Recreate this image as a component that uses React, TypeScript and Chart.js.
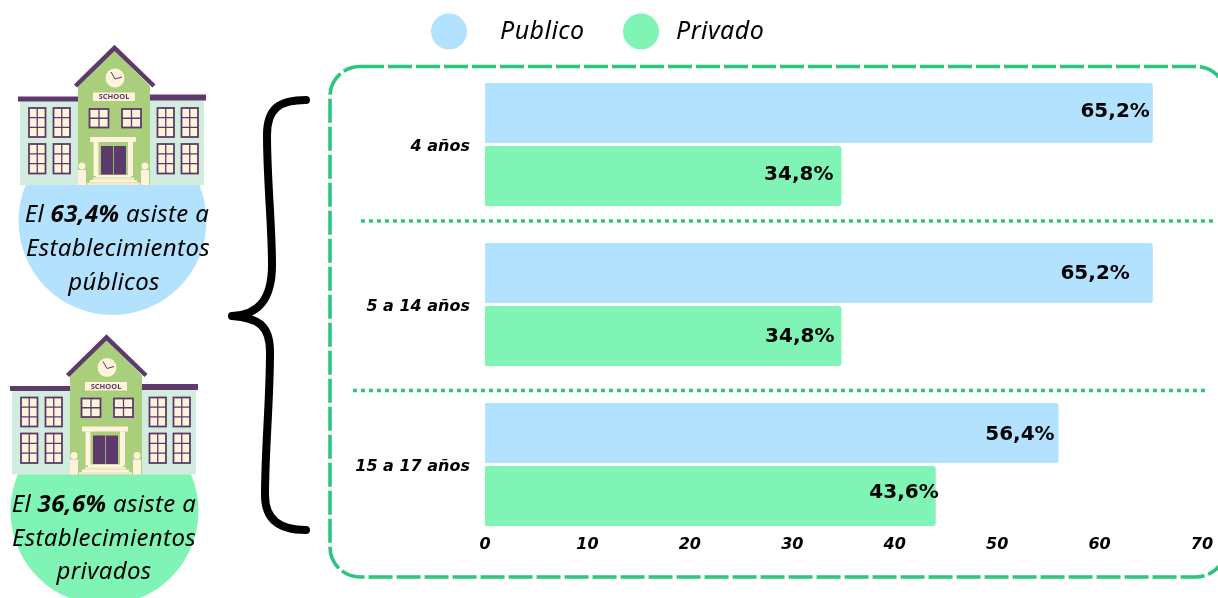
import React, { useEffect, useRef } from "react";
import { Chart, registerables } from "chart.js";

Chart.register(...registerables);

const categories = ["4 años", "5 a 14 años", "15 a 17 años"];
const publicoValues = [65.2, 65.2, 56.0];
const privadoValues = [34.8, 34.8, 44.0];
const publicoLabels = ["65,2%", "65,2%", "56,4%"];
const privadoLabels = ["34,8%", "34,8%", "43,6%"];
const seriesNames = ["Publico", "Privado"];
const xTicks = [0, 10, 20, 30, 40, 50, 60, 70];
const publicoLabelInset = [3, 23, 4];
const privadoLabelInset = [8, 7, -3];
const publicoLabelShift = [-1, 1, 2];
const privadoLabelShift = [-1, 1, -3];

const BLUE = "#B3E2FF";
const MINT = "#80F4B5";
const FRAME = "#2EC47F";
const PURPLE = "#5E3A6C";
const LEAF = "#A9CF7C";
const WING = "#D2EDDE";
const CREAM = "#FFF3DC";
const SANS = '"Noto Sans", sans-serif';
const BOLD = '"DejaVu Sans", sans-serif';

type C = CanvasRenderingContext2D;

function windowPane(c: C, x: number, y: number, w: number, h: number, cols: number, rows: number) {
  c.fillStyle = CREAM;
  c.fillRect(x, y, w, h);
  c.strokeStyle = PURPLE;
  c.lineWidth = 1.8;
  c.strokeRect(x, y, w, h);
  c.lineWidth = 1.3;
  c.beginPath();
  for (let i = 1; i < cols; i++) {
    c.moveTo(x + (w * i) / cols, y);
    c.lineTo(x + (w * i) / cols, y + h);
  }
  for (let i = 1; i < rows; i++) {
    c.moveTo(x, y + (h * i) / rows);
    c.lineTo(x + w, y + (h * i) / rows);
  }
  c.stroke();
}

function school(c: C, dx: number, dy: number) {
  c.save();
  c.translate(dx, dy);
  c.fillStyle = WING;
  c.fillRect(20, 99, 184, 86);
  c.fillStyle = PURPLE;
  c.fillRect(18, 96.5, 60, 5);
  c.fillRect(150, 94.5, 56, 6);
  c.fillStyle = LEAF;
  c.beginPath();
  c.moveTo(78, 185);
  c.lineTo(78, 86);
  c.lineTo(114, 50);
  c.lineTo(150, 86);
  c.lineTo(150, 185);
  c.closePath();
  c.fill();
  c.strokeStyle = PURPLE;
  c.lineWidth = 4.5;
  c.beginPath();
  c.moveTo(75.5, 86);
  c.lineTo(114.5, 48);
  c.lineTo(154, 86);
  c.stroke();
  c.fillStyle = CREAM;
  c.beginPath();
  c.arc(115, 78, 9.5, 0, Math.PI * 2);
  c.fill();
  c.strokeStyle = PURPLE;
  c.lineWidth = 1;
  c.beginPath();
  c.moveTo(111, 72);
  c.lineTo(115, 79);
  c.lineTo(122, 77);
  c.stroke();
  c.fillStyle = CREAM;
  c.fillRect(93, 92.5, 42, 8.5);
  c.fillStyle = PURPLE;
  c.font = `bold 7.5px ${SANS}`;
  c.textAlign = "center";
  c.textBaseline = "middle";
  c.fillText("SCHOOL", 114, 97);
  for (const x of [29, 53.5, 157.5, 181.5]) {
    windowPane(c, x, 108, 16.5, 29, 2, 3);
    windowPane(c, x, 144, 16.5, 29.5, 2, 3);
  }
  windowPane(c, 89.5, 109, 19, 18.5, 2, 2);
  windowPane(c, 122, 109, 19, 18.5, 2, 2);
  c.fillStyle = CREAM;
  c.fillRect(90, 137, 46, 5);
  c.fillRect(93.5, 142, 5, 34);
  c.fillRect(128, 142, 5, 34);
  c.fillStyle = PURPLE;
  c.fillRect(101, 146, 25, 28.5);
  c.strokeStyle = LEAF;
  c.lineWidth = 0.8;
  c.beginPath();
  c.moveTo(113.5, 146);
  c.lineTo(113.5, 174.5);
  c.stroke();
  c.fillStyle = CREAM;
  c.fillRect(78, 170, 8, 15);
  c.fillRect(141, 170, 8, 15);
  c.beginPath();
  c.arc(82, 166, 3.5, 0, Math.PI * 2);
  c.arc(145, 166, 3.5, 0, Math.PI * 2);
  c.fill();
  for (let i = 0; i < 4; i++) {
    c.fillStyle = i % 2 ? "#F3E8C8" : CREAM;
    c.fillRect(96 - i * 3, 175 + i * 2.5, 35 + i * 6, 2.5);
  }
  c.restore();
}

function mixedLine(c: C, cx: number, y: number, parts: { t: string; b?: boolean }[]) {
  const size = 24;
  const fontOf = (p: { b?: boolean }) => `italic ${p.b ? "700" : "400"} ${size}px ${SANS}`;
  (c as any).letterSpacing = "0.35px";
  let total = 0;
  for (const p of parts) {
    c.font = fontOf(p);
    total += c.measureText(p.t).width;
  }
  let x = cx - total / 2;
  c.textAlign = "left";
  c.textBaseline = "middle";
  c.fillStyle = "#000";
  for (const p of parts) {
    c.font = fontOf(p);
    c.fillText(p.t, x, y);
    x += c.measureText(p.t).width;
  }
  (c as any).letterSpacing = "0px";
}

const decorations = {
  id: "decorations",
  beforeDatasetsDraw(chart: any) {
    const c: C = chart.ctx;
    c.save();
    c.fillStyle = BLUE;
    c.beginPath();
    c.arc(112.5, 221, 94, 0, Math.PI * 2);
    c.fill();
    c.fillStyle = MINT;
    c.beginPath();
    c.arc(104.5, 511, 94, 0, Math.PI * 2);
    c.fill();
    school(c, 0, 0);
    school(c, -8, 289.5);
    mixedLine(c, 117, 215, [{ t: "El " }, { t: "63,4%", b: true }, { t: " asiste a" }]);
    mixedLine(c, 118, 249, [{ t: "Establecimientos" }]);
    mixedLine(c, 114, 283, [{ t: "públicos" }]);
    mixedLine(c, 104, 505, [{ t: "El " }, { t: "36,6%", b: true }, { t: " asiste a" }]);
    mixedLine(c, 104, 539, [{ t: "Establecimientos" }]);
    mixedLine(c, 104, 572, [{ t: "privados" }]);

    c.strokeStyle = "#000";
    c.lineWidth = 8;
    c.lineCap = "round";
    c.lineJoin = "round";
    c.beginPath();
    c.moveTo(306, 100);
    c.bezierCurveTo(280, 100, 267, 108, 267, 135);
    c.bezierCurveTo(267, 180, 272, 225, 272, 265);
    c.bezierCurveTo(272, 300, 258, 315, 232, 316);
    c.bezierCurveTo(258, 318, 270, 325, 270, 352);
    c.bezierCurveTo(270, 400, 265, 450, 265, 495);
    c.bezierCurveTo(265, 520, 280, 530, 306, 530);
    c.stroke();

    c.strokeStyle = FRAME;
    c.lineWidth = 3.6;
    c.lineCap = "butt";
    c.setLineDash([24, 4]);
    c.beginPath();
    c.roundRect(330, 66.5, 896, 510.5, 30);
    c.stroke();

    c.setLineDash([4, 4]);
    c.beginPath();
    c.moveTo(361, 221);
    c.lineTo(1214, 221);
    c.moveTo(353, 390.5);
    c.lineTo(1206, 390.5);
    c.stroke();
    c.setLineDash([]);

    const legend = [
      { cx: 449, tx: 500, col: BLUE, name: seriesNames[0] },
      { cx: 641, tx: 676, col: MINT, name: seriesNames[1] },
    ];
    c.textAlign = "left";
    c.textBaseline = "middle";
    for (const l of legend) {
      c.fillStyle = l.col;
      c.beginPath();
      c.arc(l.cx, 31.5, 18, 0, Math.PI * 2);
      c.fill();
      c.fillStyle = "#000";
      c.font = `italic 400 25px ${SANS}`;
      (c as any).letterSpacing = "0.45px";
      c.fillText(l.name, l.tx, 32);
      (c as any).letterSpacing = "0px";
    }
    c.restore();
  },
  afterDatasetsDraw(chart: any) {
    const c: C = chart.ctx;
    c.save();
    c.font = `bold 20px ${BOLD}`;
    c.fillStyle = "#000";
    c.textAlign = "right";
    c.textBaseline = "middle";
    const sets = [
      { text: publicoLabels, inset: publicoLabelInset, shift: publicoLabelShift },
      { text: privadoLabels, inset: privadoLabelInset, shift: privadoLabelShift },
    ];
    sets.forEach((s, di) => {
      chart.getDatasetMeta(di).data.forEach((el: any, i: number) => {
        c.fillText(s.text[i], el.x - s.inset[i], el.y + s.shift[i]);
      });
    });
    c.restore();
  },
};

export default function App() {
  const ref = useRef<HTMLCanvasElement>(null);
  useEffect(() => {
    const chart = new Chart(ref.current!, {
      type: "bar",
      data: {
        labels: categories,
        datasets: [
          { label: seriesNames[0], data: publicoValues, backgroundColor: BLUE, borderRadius: 3 },
          { label: seriesNames[1], data: privadoValues, backgroundColor: MINT, borderRadius: 3 },
        ],
      },
      plugins: [decorations],
      options: {
        indexAxis: "y",
        responsive: false,
        animation: false,
        categoryPercentage: 0.7875,
        barPercentage: 60 / 63,
        layout: { padding: { top: 64.5, right: 16, bottom: 0, left: 0 } },
        plugins: { legend: { display: false }, tooltip: { enabled: false } },
        scales: {
          x: {
            min: 0,
            max: 70,
            afterFit: (s: any) => {
              s.height = 53.5;
              s.paddingLeft = 0;
              s.paddingRight = 0;
            },
            afterBuildTicks: (s: any) => {
              s.ticks = xTicks.map((value) => ({ value }));
            },
            grid: { display: false, drawTicks: false },
            border: { display: false },
            ticks: {
              color: "#000",
              mirror: true,
              padding: -10,
              maxRotation: 0,
              font: { family: "DejaVu Sans", size: 16, weight: "bold", style: "italic" },
            },
          },
          y: {
            afterFit: (s: any) => {
              s.width = 485;
            },
            grid: { display: false, drawTicks: false },
            border: { display: false },
            ticks: {
              color: "#000",
              padding: 15,
              labelOffset: 2,
              font: { family: "DejaVu Sans", size: 16, weight: "bold", style: "italic" },
            },
          },
        },
      } as any,
    });
    return () => chart.destroy();
  }, []);
  return (
    <div style={{ position: "fixed", left: 0, top: 0, width: 1218, height: 598, background: "#fff" }}>
      <canvas ref={ref} width={1218} height={598} style={{ display: "block" }} />
    </div>
  );
}
